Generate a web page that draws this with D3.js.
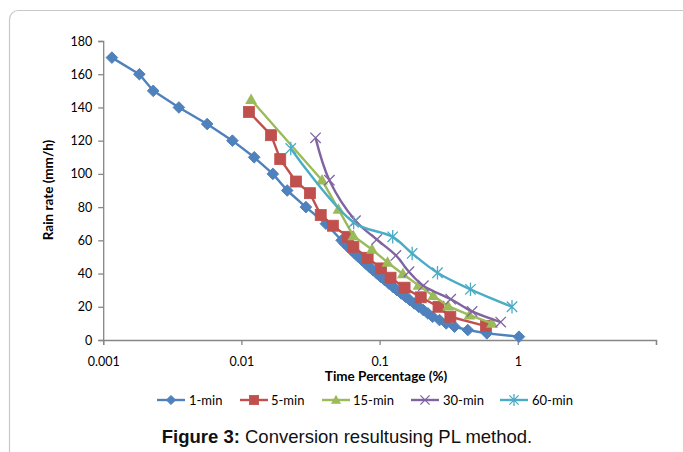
<!DOCTYPE html>
<html><head><meta charset="utf-8">
<script src="https://cdn.jsdelivr.net/npm/d3@7"></script>
<style>body{margin:0;background:#fff}svg{display:block}</style>
</head><body>
<script>
// ---- data ----
const seriesNames = ["1-min","5-min","15-min","30-min","60-min"];
const seriesColors = ["#4F81BD","#C0504D","#9BBB59","#8064A2","#4BACC6"];
const markerTypes = ["diamond","square","triangle","x","star"];
const smoothFlags = [false,false,false,true,true];

const min1X = [0.001156,0.001827,0.002301,0.003530,0.005653,0.008610,0.01238,0.01689,0.02146,0.02929,0.04087,0.05312,
  0.05605,0.05921,0.06266,0.06632,0.07029,0.07462,0.07922,0.08425,0.08974,0.09561,0.1020,0.1091,0.1166,0.1248,0.1336,
  0.1435,0.1541,0.1655,0.1781,0.1919,0.2073,0.2237,0.2419,0.2714,0.3033,0.3482,0.4345,0.5978,1.019];
const min1Y = [170,160,150,140,130,120,110,100,90,80,70,60,
  58,56,54,52,50,48,46,44,42,40,38,36,34,32,30,
  28,26,24,22,20,18,16,14,12,10,8,6,4,2];
const min5X = [0.01133,0.01640,0.0191,0.0248,0.0313,0.0375,0.0459,0.0591,0.0646,0.0819,0.1025,0.120,0.1516,0.1985,0.2669,0.325,0.588];
const min5Y = [137.3,123.3,108.9,95.4,88.4,75.2,68.8,62.1,56.1,49.5,43.1,37.5,31.5,25.7,20,14,8.4];
const min15X = [0.01175,0.0383,0.0504,0.0646,0.0881,0.1142,0.1474,0.1913,0.2447,0.313,0.447,0.651];
const min15Y = [144.7,96.2,78.6,62.6,54.5,46.7,39.7,32.9,26.7,20.4,15,10];
const min30X = [0.0344,0.0433,0.0669,0.0954,0.1312,0.1631,0.2073,0.327,0.467,0.752];
const min30Y = [121.7,96.2,71.8,60.5,50.9,41.1,32.7,24.6,17.2,10.8];
const min60X = [0.02275,0.0649,0.1244,0.172,0.2624,0.4545,0.908];
const min60Y = [115.3,70.8,62.1,52.1,40.5,30.5,20];

const xTickValues = [0.001,0.01,0.1,1,10];
const xTickLabels = ["0.001","0.01","0.1","1",""];
const yTickValues = [0,20,40,60,80,100,120,140,160,180];

const xTitle = "Time Percentage (%)";
const yTitle = "Rain rate (mm/h)";
const captionBold = "Figure 3:";
const captionText = " Conversion resultusing PL method.";

// ---- drawing ----
const W = 683, H = 452;
const svg = d3.select("body").append("svg").attr("width", W).attr("height", H);

svg.append("rect").attr("x",9.5).attr("y",10.5).attr("width",685).attr("height",470)
  .attr("rx",9).attr("fill","none").attr("stroke","#c8c8c8").attr("stroke-width",1.2);

const plot = {left:103.2, right:656, top:41, bottom:340};
const x = d3.scaleLog().domain([0.001,10]).range([plot.left, plot.right]);
const y = d3.scaleLinear().domain([0,180]).range([plot.bottom, plot.top]);

const font = "Lato, 'Open Sans', sans-serif";
const axisColor = "#868686";

// y axis
const yAxis = svg.append("g").attr("transform",`translate(${plot.left},0)`)
  .call(d3.axisLeft(y).tickValues(yTickValues).tickSize(5).tickPadding(6).tickFormat(d3.format("d")));
yAxis.select(".domain").attr("stroke",axisColor).attr("stroke-width",1.3);
yAxis.selectAll(".tick line").attr("stroke",axisColor).attr("stroke-width",1.3);
yAxis.selectAll(".tick text").attr("font-family",font).attr("font-size",12.5).attr("fill","#000");

// x axis
const xAxis = svg.append("g").attr("transform",`translate(0,${plot.bottom})`)
  .call(d3.axisBottom(x).tickValues(xTickValues).tickSize(5).tickPadding(12)
    .tickFormat((d,i)=>xTickLabels[i]));
xAxis.select(".domain").attr("stroke",axisColor).attr("stroke-width",1.3);
xAxis.selectAll(".tick line").attr("stroke",axisColor).attr("stroke-width",1.3);
xAxis.selectAll(".tick text").attr("font-family",font).attr("font-size",12.5).attr("fill","#000");

// titles
svg.append("text").attr("x",386).attr("y",381).attr("text-anchor","middle")
  .attr("font-family",font).attr("font-weight","bold").attr("font-size",13.5).text(xTitle);
svg.append("text").attr("transform","translate(53,190) rotate(-90)").attr("text-anchor","middle")
  .attr("font-family",font).attr("font-weight","bold").attr("font-size",13.5).text(yTitle);

// markers
function marker(g, type, color, s) {
  if (type==="diamond") {
    g.append("path").attr("d",`M0,${-s}L${s},0L0,${s}L${-s},0Z`).attr("fill",color).attr("stroke",color).attr("stroke-width",1);
  } else if (type==="square") {
    g.append("rect").attr("x",-s).attr("y",-s).attr("width",2*s).attr("height",2*s).attr("fill",color).attr("stroke",color).attr("stroke-width",0.8);
  } else if (type==="triangle") {
    g.append("path").attr("d",`M0,${-s*1.15}L${s*1.1},${s*0.8}L${-s*1.1},${s*0.8}Z`).attr("fill",color);
  } else if (type==="x") {
    g.append("path").attr("d",`M${-s},${-s}L${s},${s}M${-s},${s}L${s},${-s}`).attr("stroke",color).attr("stroke-width",1.3).attr("fill","none");
  } else if (type==="star") {
    g.append("path").attr("d",`M${-s},${-s}L${s},${s}M${-s},${s}L${s},${-s}M0,${-s*1.3}L0,${s*1.3}`).attr("stroke",color).attr("stroke-width",1.3).attr("fill","none");
  }
}

const allX = [min1X,min5X,min15X,min30X,min60X];
const allY = [min1Y,min5Y,min15Y,min30Y,min60Y];
const markerSizes = [5.8,5.5,5.4,5.2,5.2];

allX.forEach((xs,i)=>{
  const pts = xs.map((v,j)=>[v, allY[i][j]]);
  const line = d3.line().x(d=>x(d[0])).y(d=>y(d[1]))
    .curve(smoothFlags[i] ? d3.curveCatmullRom.alpha(0.5) : d3.curveLinear);
  const g = svg.append("g");
  g.append("path").datum(pts).attr("d",line).attr("fill","none")
    .attr("stroke",seriesColors[i]).attr("stroke-width",2.4).attr("stroke-linejoin","round");
  pts.forEach(p=>{
    const mg = g.append("g").attr("transform",`translate(${x(p[0])},${y(p[1])})`);
    marker(mg, markerTypes[i], seriesColors[i], markerSizes[i]);
  });
});

// legend
const legendItems = [
  {lx:157, tx:189},
  {lx:240, tx:271},
  {lx:322, tx:353},
  {lx:411, tx:443},
  {lx:500, tx:532}
];
const ly = 400;
seriesNames.forEach((name,i)=>{
  const it = legendItems[i];
  const g = svg.append("g");
  g.append("line").attr("x1",it.lx).attr("x2",it.lx+28).attr("y1",ly).attr("y2",ly)
    .attr("stroke",seriesColors[i]).attr("stroke-width",2.4);
  const mg = g.append("g").attr("transform",`translate(${it.lx+14},${ly})`);
  marker(mg, markerTypes[i], seriesColors[i], 4.6);
  g.append("text").attr("x",it.tx).attr("y",ly+4.5).attr("font-family",font)
    .attr("font-size",13).attr("fill","#000").text(name);
});

// caption
const cap = svg.append("text").attr("x",347).attr("y",443).attr("text-anchor","middle")
  .attr("font-family","'Liberation Sans', Arial, sans-serif").attr("font-size",18.5).attr("fill","#111");
cap.append("tspan").attr("font-weight","bold").text(captionBold);
cap.append("tspan").text(captionText);
</script>
</body></html>
